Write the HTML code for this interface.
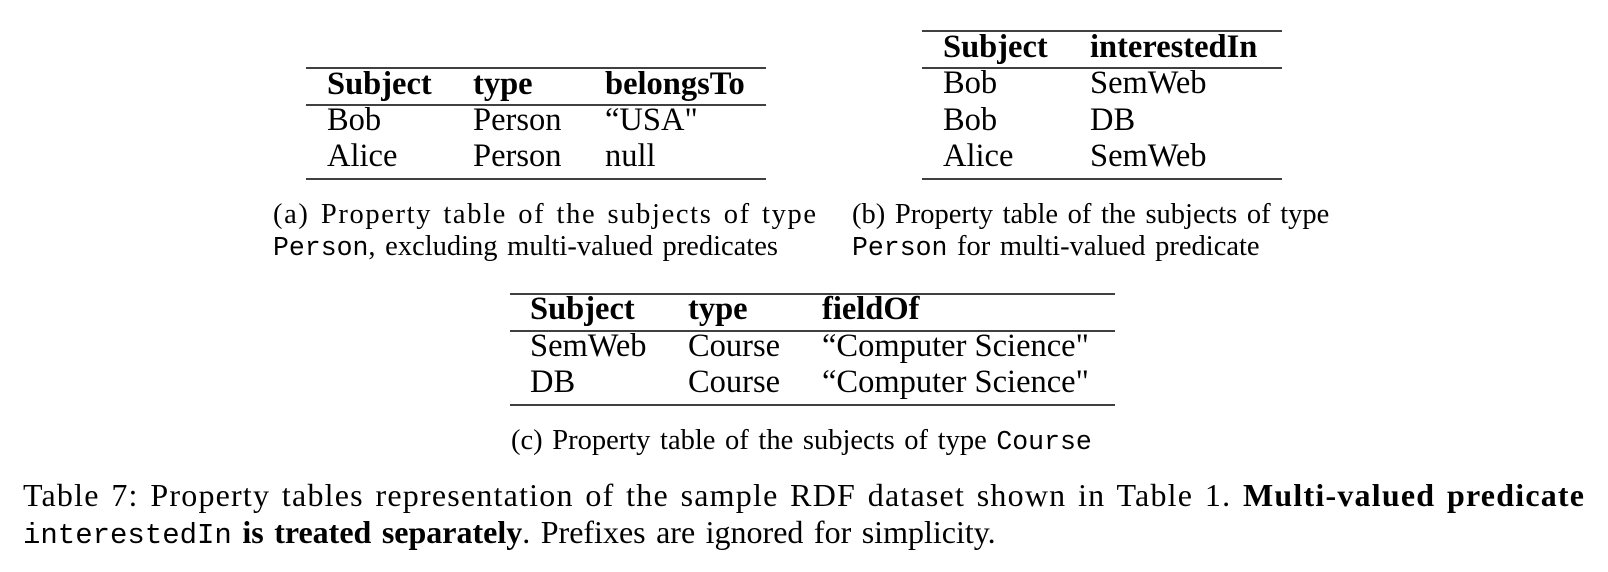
<!DOCTYPE html>
<html><head><meta charset="utf-8"><style>
html,body{margin:0;padding:0;background:#fff;}
svg{display:block}
.t{font-family:"Liberation Serif",serif;font-size:32.5px;fill:#000}
.b{font-weight:bold}
.c{font-family:"Liberation Serif",serif;font-size:28.5px;fill:#000;word-spacing:2.5px}
.m{font-family:"Liberation Mono",monospace;font-size:26.5px;word-spacing:0}
.k{font-family:"Liberation Serif",serif;font-size:32px;fill:#000;word-spacing:2.5px}
.km{font-family:"Liberation Mono",monospace;font-size:29px;word-spacing:0}
</style></head><body>
<svg width="1608" height="572" viewBox="0 0 1608 572" xmlns="http://www.w3.org/2000/svg">
<g stroke="#000" stroke-width="1.6">
<line x1="306" y1="68" x2="766" y2="68"/><line x1="306" y1="105" x2="766" y2="105"/><line x1="306" y1="179" x2="766" y2="179"/>
<line x1="922" y1="31" x2="1282" y2="31"/><line x1="922" y1="68" x2="1282" y2="68"/><line x1="922" y1="179" x2="1282" y2="179"/>
<line x1="510" y1="294" x2="1115" y2="294"/><line x1="510" y1="331" x2="1115" y2="331"/><line x1="510" y1="405" x2="1115" y2="405"/>
</g>
<text class="t b" x="327" y="94">Subject</text><text class="t b" x="473" y="94">type</text><text class="t b" x="605" y="94">belongsTo</text>
<text class="t" x="327" y="130">Bob</text><text class="t" x="473" y="130">Person</text><text class="t" x="605" y="130">“USA"</text>
<text class="t" x="327" y="166">Alice</text><text class="t" x="473" y="166">Person</text><text class="t" x="605" y="166">null</text>

<text class="t b" x="943" y="57">Subject</text><text class="t b" x="1090" y="57">interestedIn</text>
<text class="t" x="943" y="93">Bob</text><text class="t" x="1090" y="93">SemWeb</text>
<text class="t" x="943" y="130">Bob</text><text class="t" x="1090" y="130">DB</text>
<text class="t" x="943" y="166">Alice</text><text class="t" x="1090" y="166">SemWeb</text>

<text class="c" x="273" y="223" textLength="543" lengthAdjust="spacing">(a) Property table of the subjects of type</text>
<text class="c" x="273" y="255"><tspan class="m">Person</tspan>, excluding multi-valued predicates</text>
<text class="c" x="852" y="223">(b) Property table of the subjects of type</text>
<text class="c" x="852" y="255"><tspan class="m">Person</tspan> for multi-valued predicate</text>

<text class="t b" x="530" y="319">Subject</text><text class="t b" x="688" y="319">type</text><text class="t b" x="822" y="319">fieldOf</text>
<text class="t" x="530" y="356">SemWeb</text><text class="t" x="688" y="356">Course</text><text class="t" x="822" y="356">“Computer Science"</text>
<text class="t" x="530" y="392">DB</text><text class="t" x="688" y="392">Course</text><text class="t" x="822" y="392">“Computer Science"</text>

<text class="c" x="511" y="449">(c) Property table of the subjects of type <tspan class="m">Course</tspan></text>

<text class="k" x="23" y="506" textLength="1561" lengthAdjust="spacing">Table 7:  Property tables representation of the sample RDF dataset shown in Table 1.  <tspan font-weight="bold">Multi-valued predicate</tspan></text>
<text class="k" x="23" y="543"><tspan class="km">interestedIn</tspan> <tspan font-weight="bold">is treated separately</tspan>. Prefixes are ignored for simplicity.</text>
</svg>
</body></html>
